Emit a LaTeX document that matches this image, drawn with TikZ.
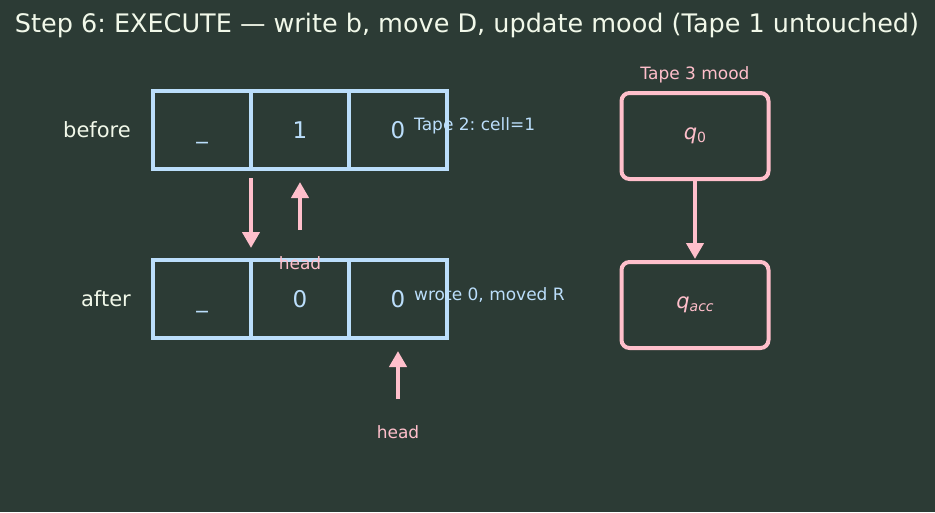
\documentclass[tikz,border=0pt]{standalone}
\usepackage{fontspec}
\setmainfont{DejaVu Sans}
\usepackage{tikz}
\usetikzlibrary{positioning}
\usetikzlibrary{arrows.meta}
\definecolor{bgcol}{HTML}{2C3B35}
\definecolor{cellblue}{HTML}{BBDEFB}
\definecolor{headpink}{HTML}{FFBFCB}
\definecolor{titlecol}{HTML}{F1F8E9}
\newcommand{\fsz}[1]{\fontsize{#1}{#1}\selectfont}
\frenchspacing
\tikzset{
  cellbox/.style={draw=cellblue, line width=4pt, minimum width=98pt, minimum height=78pt,
    inner sep=0pt, outer sep=0pt, text=cellblue, font=\fsz{23}, text height=17pt, text depth=0pt},
  moodbox/.style={draw=headpink, line width=4pt, rounded corners=8pt, minimum width=147pt,
    minimum height=86pt, inner sep=0pt, outer sep=0pt, text=headpink, font=\fsz{21}},
  rowlabel/.style={text=titlecol, font=\fsz{21}, anchor=east, inner sep=0pt},
  note/.style={text=cellblue, font=\fsz{17}, anchor=west, inner sep=0pt},
  headlabel/.style={text=headpink, font=\fsz{17}, inner sep=0pt},
  pinkarrow/.style={draw=headpink, line width=4.5pt, -{Triangle[width=17pt,length=16pt]}},
}
\begin{document}
\begin{tikzpicture}[x=1pt, y=-1pt]
  \fill[bgcol] (0,0) rectangle (935,512);
  \useasboundingbox (0,0) rectangle (935,512);
  \node[text=titlecol, font=\fsz{25.5}] (title) at (467,25) {Step 6: EXECUTE — write b, move D, update mood (Tape 1 untouched)};
  % tape 2 before
  \node[rowlabel] (before) at (131,130) {before};
  \node[cellbox] (b1) at (202,130) {\textunderscore};
  \node[cellbox, right=0pt of b1] (b2) {1};
  \node[cellbox, right=0pt of b2] (b3) {0};
  \node[note] (bnote) at (414,126) {Tape 2: cell=1};
  % tape 2 after
  \node[rowlabel] (after) at (131,299) {after};
  \node[cellbox] (a1) at (202,299) {\textunderscore};
  \node[cellbox, right=0pt of a1] (a2) {0};
  \node[cellbox, right=0pt of a2] (a3) {0};
  \node[note] (anote) at (414,295) {wrote 0, moved R};
  % heads
  \node[headlabel] (hd1) at ([yshift=-94pt]b2.south) {head};
  \node[headlabel] (hd2) at ([yshift=-94pt]a3.south) {head};
  \coordinate (wtop) at ([yshift=-9pt]b1.south east);
  \coordinate (wbot) at ([yshift=12pt]a1.north east);
  \draw[pinkarrow] (wtop) -- (wbot);
  \coordinate (hd1tail) at ([yshift=26pt]hd1.north);
  \draw[pinkarrow] (hd1tail) -- ([yshift=-13pt]b2.south);
  \coordinate (hd2tail) at ([yshift=26pt]hd2.north);
  \draw[pinkarrow] (hd2tail) -- ([yshift=-13pt]a3.south);
  % tape 3 mood
  \node[headlabel] (moodlabel) at (695,75) {Tape 3 mood};
  \node[moodbox] (m0) at (695,136) {\textit{q}\raisebox{-0.25ex}{\fsz{14}0}};
  \node[moodbox] (m1) at (695,305) {\textit{q}\raisebox{-0.25ex}{\fsz{14}\textit{acc}}};
  \draw[pinkarrow] (m0) -- ([yshift=3pt]m1.north);
\end{tikzpicture}
\end{document}
